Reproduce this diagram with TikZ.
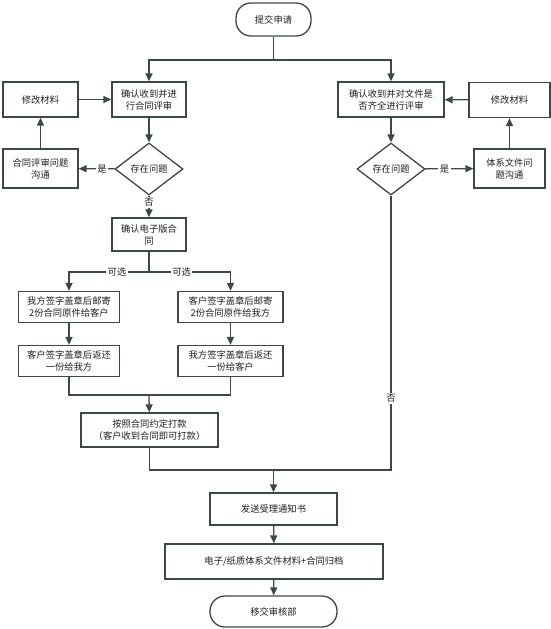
\documentclass[tikz,border=0pt]{standalone}
\usepackage{fontspec}
\setmainfont{Noto Sans CJK SC}
\usepackage{xcolor}
\usepackage{tikz}
\usetikzlibrary{shapes.geometric,arrows.meta}
\definecolor{linegray}{HTML}{3C4848}
\definecolor{textgray}{HTML}{1E1E1E}

\begin{document}
\begin{tikzpicture}[x=1pt, y=-1pt,
    every node/.style={font=\fontsize{9.3}{12}\selectfont, text=textgray, align=center, inner sep=1pt},
    box/.style={rectangle, draw=linegray, line width=1.3pt},
    term/.style={rectangle, rounded corners=15pt, draw=linegray, line width=1.3pt},
    ask/.style={diamond, aspect=1.3, draw=linegray, line width=1.3pt, minimum width=68pt, minimum height=52pt},
    flow/.style={draw=linegray, line width=1.3pt, -{Triangle[length=8pt,width=7pt]}},
    plain/.style={draw=linegray, line width=1.3pt},
    lbl/.style={fill=white, inner sep=1.5pt}]
            \useasboundingbox (0,0) rectangle (551,629);
            % Nodes
            \node[term, minimum width=75pt, minimum height=33pt] (n1) at (273.5,19.5) {提交申请};
            \node[box, minimum width=74pt, minimum height=35pt] (n2) at (149,99.5) {确认收到并进\\行合同评审};
            \node[box, minimum width=75pt, minimum height=35pt] (n3) at (40.5,99.5) {修改材料};
            \node[ask] (n4) at (149,169) {存在问题};
            \node[box, minimum width=75pt, minimum height=39pt] (n5) at (40.5,168.5) {合同评审问题\\沟通};
            \node[box, minimum width=74pt, minimum height=33pt] (n6) at (149,234.5) {确认电子版合\\同};
            \node[box, minimum width=101pt, minimum height=31pt] (n7) at (69,307) {我方签字盖章后邮寄\\2份合同原件给客户};
            \node[box, minimum width=105pt, minimum height=31pt] (n8) at (230.5,307) {客户签字盖章后邮寄\\2份合同原件给我方};
            \node[box, minimum width=101pt, minimum height=31pt] (n9) at (69,361) {客户签字盖章后返还\\一份给我方};
            \node[box, minimum width=105pt, minimum height=31pt] (n10) at (230.5,361) {我方签字盖章后返还\\一份给客户};
            \node[box, minimum width=137pt, minimum height=34pt] (n11) at (149.5,430) {按照合同约定打款\\（客户收到合同即可打款）};
            \node[box, minimum width=106pt, minimum height=35pt] (n12) at (391,99.5) {确认收到并对文件是\\否齐全进行评审};
            \node[box, minimum width=81pt, minimum height=35pt] (n13) at (509.5,100) {修改材料};
            \node[ask] (n14) at (391,169) {存在问题};
            \node[box, minimum width=71pt, minimum height=39pt] (n15) at (509.5,168.5) {体系文件问\\题沟通};
            \node[box, minimum width=127pt, minimum height=32pt] (n16) at (273.5,509) {发送受理通知书};
            \node[box, minimum width=218pt, minimum height=35pt] (n17) at (274,561.5) {电子/纸质体系文件材料+合同归档};
            \node[term, minimum width=127pt, minimum height=31pt] (n18) at (273.5,611.5) {移交审核部};
            \coordinate (c1) at (273.5,60);
            \coordinate (c2) at (149,272);
            \coordinate (c3) at (149,395);
            \coordinate (c4) at (273.5,470);

            % Edges
            \draw[plain] (n1) -- (c1);
            \draw[flow] (c1) -| (n2);
            \draw[flow] (c1) -| (n12);
            \draw[flow] (n3) -- (n2);
            \draw[flow] (n2) -- (n4);
            \draw[flow] (n4) -- (n5) node[lbl, pos=0.35] {是};
            \draw[flow] (n5) -- (n3);
            \draw[flow] (n4) -- (n6) node[lbl, pos=0.3] {否};
            \draw[plain] (n6) -- (c2);
            \draw[flow] (c2) -| (n7) node[lbl, pos=0.2] {可选};
            \draw[flow] (c2) -| (n8) node[lbl, pos=0.2] {可选};
            \draw[flow] (n7) -- (n9);
            \draw[flow] (n8) -- (n10);
            \draw[plain] (n9) |- (c3);
            \draw[plain] (n10) |- (c3);
            \draw[flow] (c3) -- (n11);
            \draw[plain] (n11) |- (c4);
            \draw[flow] (n12) -- (n14);
            \draw[flow] (n14) -- (n15) node[lbl, pos=0.4] {是};
            \draw[flow] (n15) -- (n13);
            \draw[flow] (n13) -- (n12);
            \draw[plain] (n14) |- (c4) node[lbl, pos=0.37] {否};
            \draw[flow] (c4) -- (n16);
            \draw[flow] (n16) -- (n17);
            \draw[flow] (n17) -- (n18);
        \end{tikzpicture}
\end{document}
